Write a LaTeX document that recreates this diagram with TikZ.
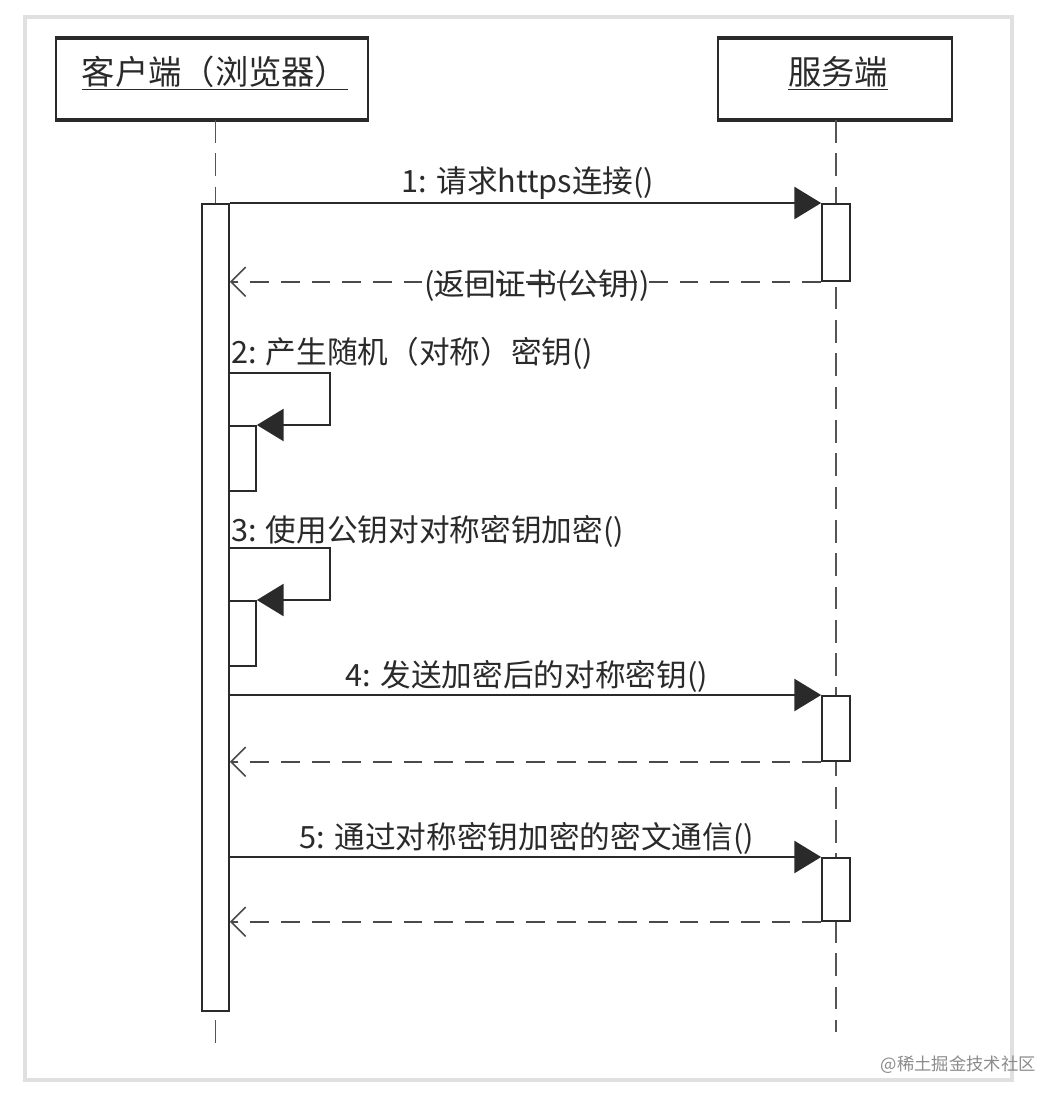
\documentclass[tikz,border=0pt]{standalone}
\usepackage{fontspec}
\setmainfont{Noto Sans CJK SC}
\usetikzlibrary{arrows.meta}
\definecolor{ink}{HTML}{2A2A2A}
\begin{document}
\begin{tikzpicture}[x=0.75pt,y=-0.75pt,
  actorbox/.style={draw=ink, line width=1.5pt, fill=white, inner sep=0pt},
  title/.style={font=\fontsize{25}{27}\selectfont, text=ink, inner sep=0pt},
  lifeline/.style={draw=ink!80, line width=1.3pt, dash pattern=on 17pt off 8pt},
  actbar/.style={draw=ink, line width=1.3pt, fill=white, inner sep=0pt, anchor=north},
  msg/.style={draw=ink, line width=1.5pt, -{Triangle[length=20pt,width=24pt]}},
  reply/.style={draw=ink!85, line width=1.5pt, dash pattern=on 14pt off 9pt, -{Straight Barb[length=11pt,width=22pt,line width=1.2pt]}},
  lbl/.style={font=\fontsize{23}{25}\selectfont, text=ink, inner sep=0pt}
]
\useasboundingbox (0,0) rectangle (1062,1104);
\fill[white] (0,0) rectangle (1062,1104);
\draw[black!12, line width=2.5pt] (25,17) rectangle (1012,1080);

% actor boxes
\node[actorbox, minimum width=234pt, minimum height=60pt] (client) at (212,79) {};
\draw[ink, line width=3pt] (client.north west) -- (client.north east);
\draw[ink, line width=3pt] (client.south west) -- (client.south east);
\node[title] (clientt) at (215,73) {\underline{客户端（浏览器）}};
\node[actorbox, minimum width=175.5pt, minimum height=60pt] (server) at (835,79) {};
\draw[ink, line width=3pt] (server.north west) -- (server.north east);
\draw[ink, line width=3pt] (server.south west) -- (server.south east);
\node[title] (servert) at (838,73) {\underline{服务端}};

% lifelines
\coordinate (cend) at (215.5,1050);
\coordinate (send) at (836,1032);
\draw[lifeline] (client.south -| cend) -- (cend);
\draw[lifeline] (server.south -| send) -- (send);

% activation bars
\node[actbar, minimum width=20.25pt, minimum height=605.25pt] (ca) at (215.5,203) {};
\node[actbar, minimum width=21pt, minimum height=57.75pt] (sa1) at (836,203) {};
\node[actbar, minimum width=20.25pt, minimum height=48.75pt] (na) at (242.5,425) {};
\node[actbar, minimum width=20.25pt, minimum height=48.75pt] (nb) at (242.5,600) {};
\node[actbar, minimum width=21pt, minimum height=48.75pt] (sa2) at (836,695) {};
\node[actbar, minimum width=21pt, minimum height=47.25pt] (sa3) at (836,857) {};

% message 1
\draw[msg] (ca.north east) -- (sa1.north west);
\node[lbl] (m1) at (528,183) {1: 请求https连接()};
\draw[reply] (sa1.south west) -- (ca.east |- sa1.south west);
\node[lbl] (r1) at (537,286) {(返回证书(公钥))};

% message 2 (self)
\coordinate (l2) at (330,373);
\draw[msg] (ca.east |- l2) -- (l2) |- (na.north east);
\node[lbl, anchor=west] (m2) at (231,353) {2: 产生随机（对称）密钥()};

% message 3 (self)
\coordinate (l3) at (330,548);
\draw[msg] (ca.east |- l3) -- (l3) |- (nb.north east);
\node[lbl, anchor=west] (m3) at (231,531) {3: 使用公钥对对称密钥加密()};

% message 4
\draw[msg] (ca.east |- sa2.north west) -- (sa2.north west);
\node[lbl] (m4) at (527,676) {4: 发送加密后的对称密钥()};
\draw[reply] (sa2.south west) -- (ca.east |- sa2.south west);

% message 5
\draw[msg] (ca.east |- sa3.north west) -- (sa3.north west);
\node[lbl] (m5) at (527,838) {5: 通过对称密钥加密的密文通信()};
\draw[reply] (sa3.south west) -- (ca.east |- sa3.south west);

% watermark
\node[font=\fontsize{13}{15}\selectfont, text=black!45, anchor=east, inner sep=0pt] (wm) at (1036,1065) {@稀土掘金技术社区};
\end{tikzpicture}
\end{document}
